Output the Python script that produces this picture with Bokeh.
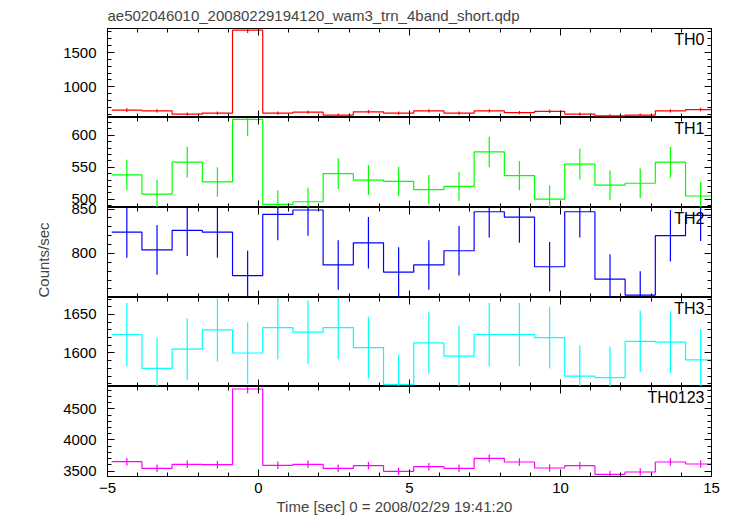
import math
from bokeh.plotting import figure
from bokeh.models import Range1d, SingleIntervalTicker, FixedTicker, LinearAxis, Label, Title
from bokeh.layouts import column
from bokeh.embed import file_html
from bokeh.resources import INLINE

FONT = "Liberation Sans"

title_text = "ae502046010_20080229194120_wam3_trn_4band_short.qdp"
x_label_text = "Time [sec] 0 = 2008/02/29 19:41:20"
y_label_text = "Counts/sec"

# bin centres (sec) and half bin width
time_centers = [-4.36, -3.36, -2.36, -1.36, -0.36, 0.64, 1.64, 2.64, 3.64, 4.64,
                5.64, 6.64, 7.64, 8.64, 9.64, 10.64, 11.64, 12.64, 13.64, 14.64]
bin_half_width = 0.5

band_names = ["TH0", "TH1", "TH2", "TH3", "TH0123"]

th0_rate = [660, 650, 602, 617, 1826, 617, 631, 588, 636, 617,
            650, 617, 650, 624, 643, 602, 577, 588, 650, 669]
th0_err = [26, 25, 25, 25, 43, 25, 25, 24, 25, 25,
           25, 25, 25, 25, 25, 25, 24, 24, 25, 26]

th1_rate = [538, 508, 558, 527, 625, 492, 496, 540, 530, 528,
            515, 520, 574, 537, 500, 555, 522, 525, 558, 505]
th1_err = [24, 23, 24, 23, 26, 22, 22, 24, 23, 23,
           23, 23, 24, 23, 22, 24, 23, 23, 24, 22]

th2_rate = [824, 804, 826, 824, 775, 844, 849, 787, 812, 779,
            787, 803, 847, 841, 785, 847, 771, 753, 820, 843]
th2_err = [29, 28, 29, 29, 28, 29, 29, 28, 29, 28,
           28, 28, 29, 29, 28, 29, 28, 27, 29, 29]

th3_rate = [1624, 1580, 1605, 1630, 1600, 1633, 1627, 1633, 1607, 1559,
            1613, 1596, 1624, 1624, 1620, 1570, 1568, 1615, 1614, 1591]
th3_err = [41, 40, 40, 41, 40, 41, 41, 41, 40, 39,
           40, 40, 41, 41, 40, 40, 40, 40, 40, 40]

th0123_rate = [3652, 3546, 3610, 3604, 4817, 3594, 3610, 3546, 3588, 3498,
               3572, 3546, 3706, 3647, 3551, 3588, 3450, 3487, 3647, 3615]
th0123_err = [60, 60, 60, 60, 70, 60, 60, 60, 60, 59,
              60, 60, 61, 60, 60, 60, 59, 59, 60, 60]

rates = [th0_rate, th1_rate, th2_rate, th3_rate, th0123_rate]
errors = [th0_err, th1_err, th2_err, th3_err, th0123_err]
colors = ["#ff0000", "#00ff00", "#0000ff", "#00ffff", "#ff00ff"]

y_limits = [(553, 1850), (487, 628), (750.3, 851.8), (1556.5, 1672), (3415, 4857)]
y_major = [500, 50, 50, 50, 500]
x_limits = (-5, 15)
x_major = 5
x_tick_labels = {-5: "\u22125", 0: "0", 5: "5", 10: "10", 15: "15"}

frame_heights = [89, 90, 90, 89, 90]
FRAME_W = 604
LEFT = 107
RIGHT = 22
MAJ_LEN = 7
MIN_LEN = 4


def multiples(lo, hi, step):
    k0 = math.ceil(lo / step - 1e-9)
    k1 = math.floor(hi / step + 1e-9)
    return [k * step for k in range(k0, k1 + 1)]


def style_common(ax):
    ax.major_tick_out = 0
    ax.minor_tick_out = 0
    ax.major_tick_in = MAJ_LEN
    ax.minor_tick_in = MIN_LEN
    ax.major_tick_line_color = "black"
    ax.minor_tick_line_color = "black"
    ax.axis_line_color = "black"


def labelled_axis(interval):
    ax = LinearAxis(ticker=SingleIntervalTicker(interval=interval, num_minor_ticks=5))
    style_common(ax)
    ax.major_label_text_font = FONT
    ax.major_label_text_font_size = "15px"
    ax.major_label_text_color = "black"
    return ax


def tick_only_axes(lo, hi, major):
    """Two label-free axes: short ticks at every minor step, long at majors."""
    minor_pos = multiples(lo, hi, major / 5)
    major_pos = multiples(lo, hi, major)
    out = []
    for pos, length in ((minor_pos, MIN_LEN), (major_pos, MAJ_LEN)):
        ax = LinearAxis(ticker=FixedTicker(ticks=[], minor_ticks=pos))
        style_common(ax)
        ax.minor_tick_in = length
        ax.major_label_standoff = 0
        out.append(ax)
    return out


figs = []
n = len(band_names)
for i in range(n):
    top = i == 0
    bottom = i == n - 1
    lift = 10 if i == 2 else 0
    p = figure(frame_width=FRAME_W, frame_height=frame_heights[i],
               x_range=Range1d(*x_limits), y_range=Range1d(*y_limits[i]),
               x_axis_location=None, y_axis_location=None,
               output_backend="svg", toolbar_location=None,
               min_border_left=LEFT, min_border_right=RIGHT,
               min_border_top=28 if top else lift,
               min_border_bottom=39 if bottom else 0)
    if lift:
        p.margin = (-lift, 0, 0, 0)
        p.border_fill_color = None
    else:
        p.border_fill_color = "white"
    p.xgrid.visible = False
    p.ygrid.visible = False
    p.outline_line_color = "black"
    p.outline_line_width = 1
    p.background_fill_color = "white"

    if top:
        p.title.text = title_text
        p.title.align = "left"
        p.title.vertical_align = "top"
        p.title.text_font = FONT
        p.title.text_font_size = "15px"
        p.title.text_font_style = "normal"
        p.title.standoff = 6

    # y axes
    yl = labelled_axis(y_major[i])
    yl.major_label_standoff = 11
    p.add_layout(yl, "left")
    for ax in tick_only_axes(*y_limits[i], y_major[i]):
        p.add_layout(ax, "right")

    # x axes
    if bottom:
        xb = labelled_axis(x_major)
        xb.major_label_overrides = x_tick_labels
        xb.major_label_standoff = 6
        p.add_layout(xb, "below")
    else:
        for ax in tick_only_axes(*x_limits, x_major):
            p.add_layout(ax, "below")
    for ax in tick_only_axes(*x_limits, x_major):
        p.add_layout(ax, "above")

    # step histogram from bin edges
    edges = [c - bin_half_width for c in time_centers] + [time_centers[-1] + bin_half_width]
    ys = list(rates[i]) + [rates[i][-1]]
    p.step(edges, ys, mode="after", line_color=colors[i], line_width=1.2)

    lo = [r - e for r, e in zip(rates[i], errors[i])]
    hi = [r + e for r, e in zip(rates[i], errors[i])]
    p.segment(x0=time_centers, y0=lo, x1=time_centers, y1=hi,
              line_color=colors[i], line_width=1.2)

    p.add_layout(Label(x=x_limits[1], y=y_limits[i][1], x_offset=-7, y_offset=-2,
                       text=band_names[i], text_align="right", text_baseline="top",
                       text_font=FONT, text_font_size="16px", text_color="black"))

    if i == 2:
        p.add_layout(Title(text=y_label_text, align="left", vertical_align="top",
                           standoff=30, text_font=FONT, text_font_size="15px",
                           text_font_style="normal"), "left")
    if bottom:
        p.add_layout(Title(text=x_label_text, align="left", offset=169, standoff=0,
                           text_font=FONT, text_font_size="15px",
                           text_font_style="normal"), "below")
    figs.append(p)

layout = column(*figs, spacing=0)
open("out.html", "w").write(file_html(layout, INLINE))
